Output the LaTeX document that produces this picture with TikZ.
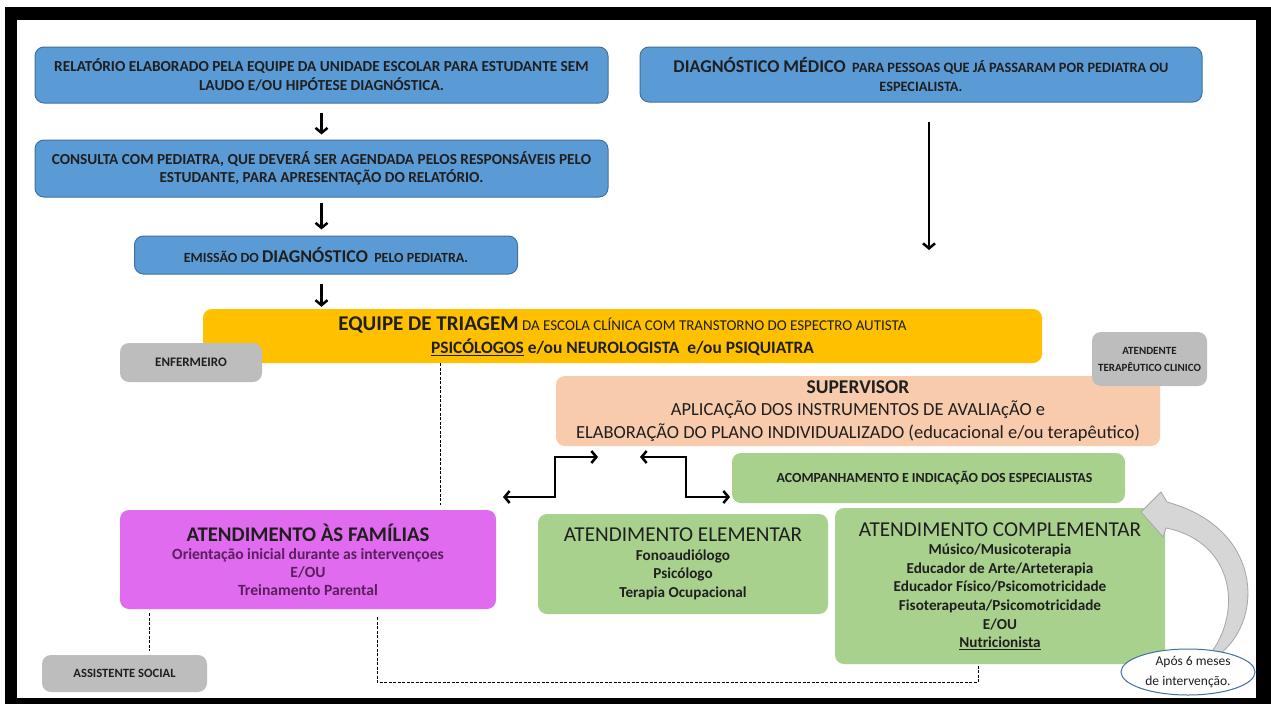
\documentclass[tikz,border=0pt]{standalone}
\usepackage{fontspec}
\setmainfont{Carlito}
\usetikzlibrary{arrows.meta,shapes.geometric}

\definecolor{stepblue}{HTML}{5B9BD5}
\definecolor{stepline}{HTML}{41719C}
\definecolor{triageyellow}{HTML}{FFC000}
\definecolor{staffgray}{HTML}{BDBDBD}
\definecolor{superpeach}{HTML}{F8CBAD}
\definecolor{caregreen}{HTML}{A9D18E}
\definecolor{familypink}{HTML}{E16BEE}
\definecolor{familytext}{HTML}{5A1F5E}
\definecolor{loopgray}{HTML}{D6D6D6}
\definecolor{loopline}{HTML}{A6A6A6}
\definecolor{ink}{HTML}{1F1F1F}

\newcommand{\fsz}[2]{\fontsize{#1}{#2}\selectfont}

\begin{document}
\begin{tikzpicture}[x=1pt,y=-1pt,>={Straight Barb[length=5pt,width=12pt]},text=ink]

  \tikzstyle{box}=[rectangle,rounded corners=9pt,inner sep=0pt,align=center]
  \tikzstyle{stepbox}=[box,fill=stepblue,draw=stepline,line width=1pt,font=\bfseries\fsz{15.3}{18.5}]
  \tikzstyle{staffbox}=[box,fill=staffgray,font=\bfseries\fsz{12.8}{17}]
  \tikzstyle{carebox}=[box,fill=caregreen,font=\bfseries\fsz{15.2}{18.6}]
  \tikzstyle{flow}=[->,line width=2.5pt]
  \tikzstyle{link}=[line width=0.9pt,dash pattern=on 3pt off 1.5pt]

  % frame
  \useasboundingbox (0,0) rectangle (1271,704);
  \fill[white] (0,0) rectangle (1271,704);
  \fill[black] (5,7) rectangle (1271,704);
  \fill[white] (17,20) rectangle (1256,698);

  % diagnosis path
  \node [stepbox,minimum width=573pt,minimum height=56pt] (rel) at (321.5,75)
    {RELATÓRIO ELABORADO PELA EQUIPE DA UNIDADE ESCOLAR PARA ESTUDANTE SEM\\LAUDO E/OU HIPÓTESE DIAGNÓSTICA.};
  \node [stepbox,minimum width=573pt,minimum height=57pt] (cons) at (321.5,168.5)
    {CONSULTA COM PEDIATRA, QUE DEVERÁ SER AGENDADA PELOS RESPONSÁVEIS PELO\\ESTUDANTE, PARA APRESENTAÇÃO DO RELATÓRIO.};
  \node [stepbox,minimum width=383pt,minimum height=38pt,font=\bfseries\fsz{14}{18}] (emis) at (326,255)
    {EMISSÃO DO {\fsz{18}{18}DIAGNÓSTICO}\ \ PELO PEDIATRA.};
  \node [stepbox,minimum width=562pt,minimum height=55pt,font=\bfseries\fsz{14.3}{19}] (diag) at (921,74.5)
    {{\fsz{18}{19}DIAGNÓSTICO MÉDICO}\ \ PARA PESSOAS QUE JÁ PASSARAM POR PEDIATRA OU\\ESPECIALISTA.};

  % team
  \node [box,fill=triageyellow,minimum width=839pt,minimum height=54pt,font=\fsz{15}{23}] (triag) at (622.5,336)
    {{\bfseries\fsz{21}{22}EQUIPE DE TRIAGEM} DA ESCOLA CLÍNICA COM TRANSTORNO DO ESPECTRO AUTISTA\\
     {\bfseries\fsz{17.4}{22}\underline{PSICÓLOGOS} e/ou NEUROLOGISTA\ \ e/ou PSIQUIATRA}};
  \node [staffbox,minimum width=142pt,minimum height=39pt,font=\bfseries\fsz{13}{17}] (enf) at (191,362.5) {ENFERMEIRO};
  \node [box,fill=superpeach,minimum width=604pt,minimum height=70pt,font=\fsz{18.5}{22.5}] (sup) at (858,411)
    {{\bfseries\fsz{19.5}{22}SUPERVISOR}\\APLICAÇÃO DOS INSTRUMENTOS DE AVALIAçÃO e\\
     ELABORAÇÃO DO PLANO INDIVIDUALIZADO (educacional e/ou terapêutico)};
  \node [staffbox,minimum width=115pt,minimum height=54pt,font=\bfseries\fsz{11}{17}] (atend) at (1149.5,359)
    {ATENDENTE\\TERAPÊUTICO CLINICO};
  \node [carebox,minimum width=393pt,minimum height=50pt,font=\bfseries\fsz{13.9}{16}] (acomp) at (928.5,478)
    {\hspace*{12pt}ACOMPANHAMENTO E INDICAÇÃO DOS ESPECIALISTAS};

  % care
  \node [box,fill=familypink,minimum width=376pt,minimum height=99pt,font=\bfseries\fsz{15.6}{18},text=familytext] (fam) at (308,559.5)
    {{\color{ink}\fsz{20.8}{23}ATENDIMENTO ÀS FAMÍLIAS}\\Orientação inicial durante as intervençoes\\E/OU\\Treinamento Parental};
  \node [carebox,minimum width=290pt,minimum height=100pt] (elem) at (683,564)
    {{\mdseries\fsz{21.2}{24}ATENDIMENTO ELEMENTAR}\\Fonoaudiólogo\\Psicólogo\\Terapia Ocupacional};
  \node [carebox,minimum width=330pt,minimum height=156pt] (compl) at (1000,586)
    {{\mdseries\fsz{21.2}{23}ATENDIMENTO COMPLEMENTAR}\\Músico/Musicoterapia\\Educador de Arte/Arteterapia\\
     Educador Físico/Psicomotricidade\\Fisoterapeuta/Psicomotricidade\\E/OU\\\underline{Nutricionista}};
  \node [staffbox,minimum width=165pt,minimum height=37pt,font=\bfseries\fsz{12.6}{17}] (assist) at (124.5,673.5) {ASSISTENTE SOCIAL};

  % six month loop
  \fill [loopgray,draw=loopline,line width=0.8pt]
    (1206,659) -- (1221,653) .. controls (1264,618) and (1262,528) .. (1167,502)
    -- (1161,492) -- (1141,512) -- (1163,537) -- (1166,528)
    .. controls (1236,542) and (1244,616) .. (1206,659) -- cycle;
  \node [ellipse,draw=stepline,fill=white,line width=1pt,minimum width=134pt,minimum height=46pt,
         inner sep=0pt,align=right,font=\fsz{13.5}{20}] (apos) at (1188,672) {Após 6 meses\\de intervenção.};

  % arrows
  \coordinate (free) at (929,250);
  \draw [flow,shorten <=9pt,shorten >=5pt] (rel.south) -- (cons.north);
  \draw [flow,shorten <=5pt,shorten >=6pt] (cons.south) -- (rel.south |- emis.north);
  \draw [flow,shorten <=9pt,shorten >=2pt] (rel.south |- emis.south) -- (rel.south |- triag.north);
  \draw [flow,shorten <=19pt] (free |- diag.south) -- (free);

  \coordinate (supl) at (598,457);
  \coordinate (faml) at (503,497);
  \coordinate (supr) at (640,457);
  \coordinate (elemr) at (730,497);
  \draw [<->,line width=2.5pt] (faml) -- ++(52,0) |- (supl);
  \draw [<->,line width=2.5pt] (supr) -- ++(46,0) |- (elemr);

  % dotted links
  \coordinate (d1) at (440,505);
  \coordinate (d2) at (149,613);
  \coordinate (d3) at (377,617);
  \coordinate (d4) at (978,682);
  \draw [link] (d1 |- triag.south) -- (d1);
  \draw [link,shorten >=4pt] (d2) -- (d2 |- assist.north);
  \draw [link] (d3) |- (d4) -- (d4 |- compl.south);

\end{tikzpicture}
\end{document}
